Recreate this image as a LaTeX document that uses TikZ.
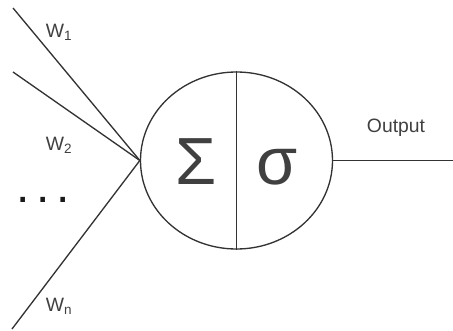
\documentclass[tikz,border=0pt]{standalone}
\usepackage{fontspec}
\setmainfont{Liberation Sans}
\usetikzlibrary{shapes.geometric}

\tikzset{
  lbl/.style={inner sep=0pt, font=\fontsize{14.5}{17}\selectfont},
  greek/.style={inner sep=0pt, anchor=base, font=\fontsize{50}{60}\selectfont},
}

\begin{document}
\begin{tikzpicture}[x=0.75pt, y=-0.75pt, line width=1pt, color=black!80, text=black!75]
  \useasboundingbox (0,0) rectangle (453,331);
  \node[draw, ellipse, minimum width=144pt, minimum height=132.75pt, inner sep=0pt] (neuron) at (236.5,160.5) {};
  \draw (neuron.north) -- (neuron.south);
  \node[greek] (sum) at (196,185) {Σ};
  \node[greek] (act) at (277,185) {σ};
  % inputs
  \coordinate (in1) at (13,8);
  \coordinate (in2) at (13,72);
  \coordinate (inn) at (12,329);
  \coordinate (out) at (453,160.5);
  \draw (in1) -- (neuron.west);
  \draw (in2) -- (neuron.west);
  \draw (inn) -- (neuron.west);
  \draw (neuron.east) -- (out);
  \node[lbl] (w1) at (59,32) {W\textsubscript{1}};
  \node[lbl] (w2) at (59,145) {W\textsubscript{2}};
  \node[lbl] (wn) at (59,306) {W\textsubscript{n}};
  \node[lbl, anchor=base, text=black!90, font=\fontsize{36}{40}\selectfont] (dots) at (43,203)
    {\makebox[15pt]{.}\makebox[15pt]{.}\makebox[15pt]{.}};
  \node[lbl] (output) at (396,128) {Output};
\end{tikzpicture}
\end{document}
